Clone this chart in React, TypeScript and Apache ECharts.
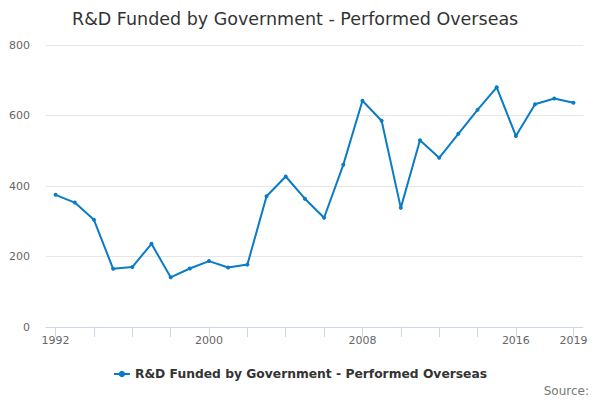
import React, { useEffect, useRef } from "react";
import * as echarts from "echarts";

const years = [1992, 1993, 1994, 1995, 1996, 1997, 1998, 1999, 2000, 2001, 2002, 2003, 2004, 2005, 2006, 2007, 2008, 2009, 2010, 2011, 2012, 2013, 2014, 2015, 2016, 2017, 2018, 2019];
const values = [375, 353, 304, 165, 170, 236, 141, 166, 187, 169, 177, 371, 427, 364, 310, 460, 642, 585, 338, 530, 480, 548, 616, 680, 542, 632, 648, 636];
const labelYears = [1992, 2000, 2008, 2016, 2019];
const tickYears = [1992, 1994, 1996, 1998, 2000, 2002, 2004, 2006, 2008, 2010, 2012, 2014, 2016, 2019];
const seriesName = "R&D Funded by Government - Performed Overseas";
const titleText = "R&D Funded by Government - Performed Overseas";

export default function App() {
  const ref = useRef<HTMLDivElement>(null);
  useEffect(() => {
    if (!ref.current) return;
    const chart = echarts.init(ref.current, null, { renderer: "svg" });
    const font = "DejaVu Sans";
    chart.setOption({
      animation: false,
      title: {
        text: titleText,
        left: 67,
        top: 5,
        textStyle: { fontFamily: font, fontSize: 17.5, fontWeight: "normal", color: "#333333" },
      },
      grid: { left: 46, right: 17, top: 45, bottom: 73 },
      xAxis: {
        type: "value",
        min: 1991.5,
        max: 2019.5,
        splitLine: { show: false },
        axisLine: { lineStyle: { color: "#ccd6eb" } },
        axisTick: { show: true, length: 10, customValues: tickYears, lineStyle: { color: "#ccd6eb" } },
        axisLabel: {
          customValues: labelYears,
          color: "#666666",
          fontFamily: font,
          fontSize: 11,
          margin: 8,
          formatter: (v: number) => String(v),
        },
      },
      yAxis: {
        type: "value",
        min: 0,
        max: 800,
        interval: 200,
        axisLine: { show: false },
        axisTick: { show: false },
        splitLine: { lineStyle: { color: "#e6e6e6" } },
        axisLabel: { color: "#666666", fontFamily: font, fontSize: 11, margin: 16 },
      },
      legend: {
        bottom: 15,
        left: "center",
        itemWidth: 16,
        itemHeight: 8,
        textStyle: { fontFamily: font, fontSize: 12.3, fontWeight: "bold", color: "#333333" },
        data: [seriesName],
      },
      graphic: [
        {
          type: "text",
          right: 11,
          top: 385,
          style: { text: "Source:", fontFamily: font, fontSize: 12, fill: "#777777" },
        },
      ],
      series: [
        {
          name: seriesName,
          type: "line",
          data: years.map((y, i) => [y, values[i]]),
          symbol: "circle",
          symbolSize: 4,
          itemStyle: { color: "#0a7bc4" },
          lineStyle: { width: 2, color: "#0a7bc4" },
        },
      ],
    });
    return () => chart.dispose();
  }, []);
  return <div ref={ref} style={{ width: 600, height: 400, position: "absolute", left: 0, top: 0 }} />;
}
